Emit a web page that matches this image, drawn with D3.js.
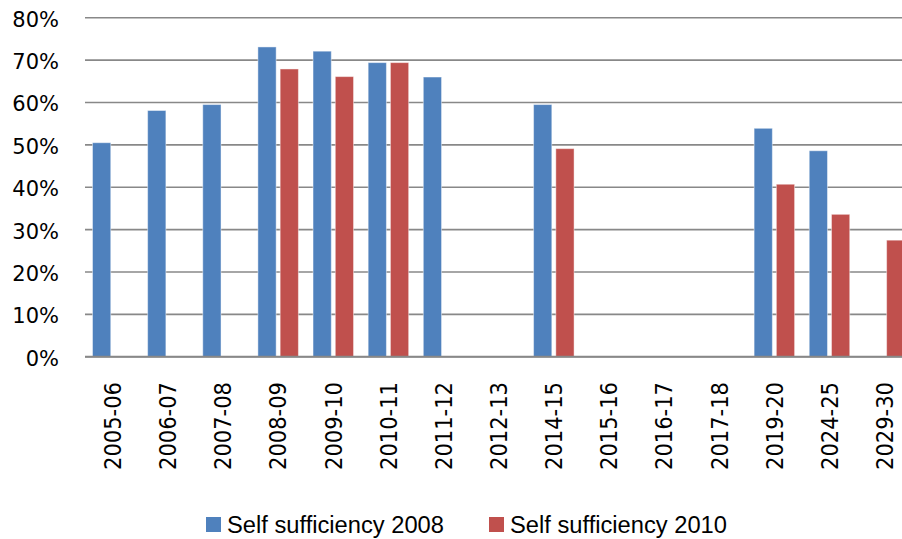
<!DOCTYPE html>
<html>
<head>
<meta charset="utf-8">
<script src="https://cdn.jsdelivr.net/npm/d3@7"></script>
<style>
  body { margin: 0; background: #fff; }
  svg { display: block; }
  .ytick { font-family: "DejaVu Sans", Verdana, sans-serif; font-size: 21px; fill: #000; }
  .xtick { font-family: "DejaVu Sans", Verdana, sans-serif; font-size: 23px; fill: #000; }
  .legend { font-family: "Liberation Sans Narrow", "Arial Narrow", "Liberation Sans", sans-serif; font-size: 23px; fill: #000; }
</style>
</head>
<body>
<svg></svg>
<script>
// chart data
var periods = ["2005-06", "2006-07", "2007-08", "2008-09", "2009-10", "2010-11", "2011-12",
               "2012-13", "2014-15", "2015-16", "2016-17", "2017-18", "2019-20", "2024-25", "2029-30"];
var self2008 = [50.5, 58.1, 59.5, 73.1, 72.1, 69.4, 66.0, null, 59.5, null, null, null, 53.9, 48.6, null];
var self2010 = [null, null, null, 67.9, 66.1, 69.4, null, null, 49.1, null, null, null, 40.7, 33.6, 27.5];
var seriesNames = ["Self sufficiency 2008", "Self sufficiency 2010"];
var seriesColors = ["#4F81BD", "#C0504D"];
var yTicks = [0, 10, 20, 30, 40, 50, 60, 70, 80];

function plot() {
  var W = 902, H = 539;
  var left = 85, right = 912, top = 17.7, bottom = 356.7;

  var svg = d3.select("svg").attr("width", W).attr("height", H);

  var xs = d3.scaleBand().domain(periods).range([left, right]);
  var xs1 = d3.scaleBand().domain([0, 1]).range([7.5, 48]).paddingInner(0.18);
  var ys = d3.scaleLinear().domain([0, 80]).range([bottom, top]);

  // gridlines
  svg.append("g").selectAll("line")
    .data(yTicks)
    .enter().append("line")
      .attr("x1", left).attr("x2", W)
      .attr("y1", function(d) { return ys(d); })
      .attr("y2", function(d) { return ys(d); })
      .attr("stroke", "#888")
      .attr("stroke-width", 1.6);

  // y labels
  svg.append("g").selectAll("text")
    .data(yTicks)
    .enter().append("text")
      .attr("class", "ytick")
      .attr("x", 59)
      .attr("y", function(d) { return ys(d) + 9; })
      .attr("text-anchor", "end")
      .text(function(d) { return d + "%"; });

  // bars
  var series = [self2008, self2010];
  series.forEach(function(vals, si) {
    svg.append("g").selectAll("rect")
      .data(periods.map(function(p, i) { return {p: p, v: vals[i]}; })
                   .filter(function(d) { return d.v != null; }))
      .enter().append("rect")
        .attr("x", function(d) { return xs(d.p) + xs1(si); })
        .attr("width", xs1.bandwidth())
        .attr("y", function(d) { return ys(d.v); })
        .attr("height", function(d) { return ys(0) - ys(d.v); })
        .attr("fill", seriesColors[si])
        .attr("stroke", "rgba(255,255,255,0.45)")
        .attr("stroke-width", 1);
  });

  // x axis line on top of bars
  svg.append("line")
    .attr("x1", left).attr("x2", W)
    .attr("y1", ys(0)).attr("y2", ys(0))
    .attr("stroke", "#888")
    .attr("stroke-width", 2);

  // rotated category labels
  svg.append("g").selectAll("text")
    .data(periods)
    .enter().append("text")
      .attr("class", "xtick")
      .attr("text-anchor", "end")
      .attr("transform", function(d) {
        return "translate(" + (xs(d) + xs.bandwidth() / 2 + 8.5) + ",382) rotate(-90)";
      })
      .attr("textLength", 88)
      .attr("lengthAdjust", "spacingAndGlyphs")
      .text(function(d) { return d; });

  // legend
  var legendX = [206, 489];
  var legend = svg.append("g").selectAll("g")
    .data(seriesNames)
    .enter().append("g")
      .attr("transform", function(d, i) { return "translate(" + legendX[i] + ",517)"; });
  legend.append("rect")
    .attr("width", 15).attr("height", 15)
    .attr("fill", function(d, i) { return seriesColors[i]; });
  legend.append("text")
    .attr("class", "legend")
    .attr("x", 21)
    .attr("y", 16)
    .attr("textLength", 217)
    .attr("lengthAdjust", "spacingAndGlyphs")
    .text(function(d) { return d; });
}

plot();
</script>
</body>
</html>
